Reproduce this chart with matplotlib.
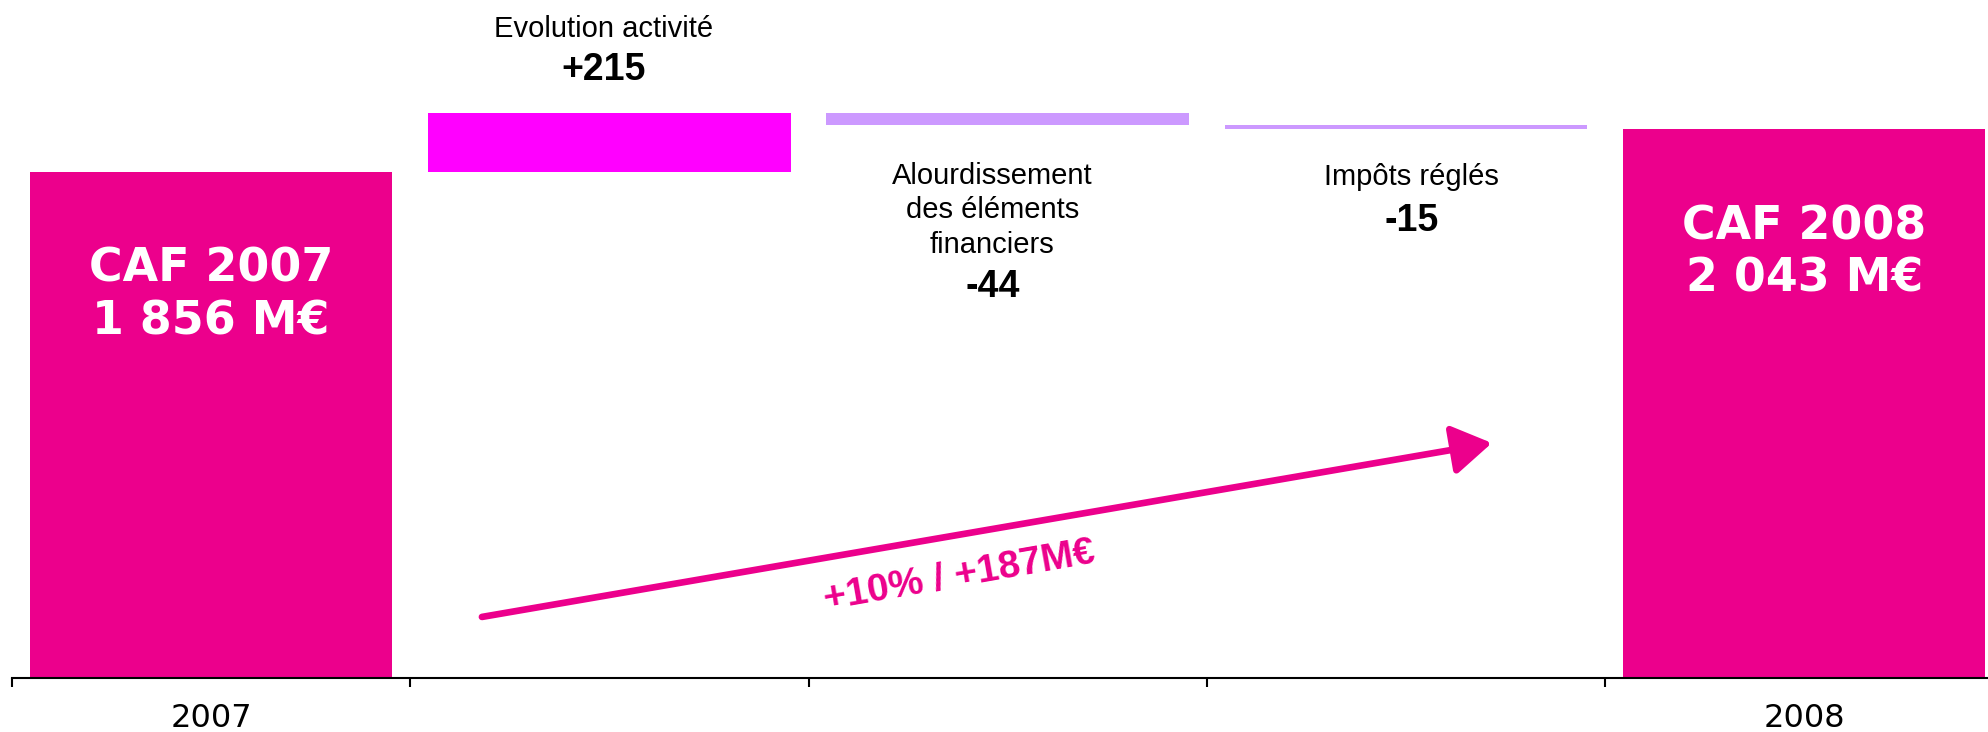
import matplotlib
matplotlib.use("Agg")
import matplotlib.pyplot as plt
import numpy as np

# waterfall data (M€)
categories = ["2007", "Evolution activité", "Alourdissement\ndes éléments\nfinanciers", "Impôts réglés", "2008"]
tick_labels = ["2007", "", "", "", "2008"]
start_value = 1856
steps = [215, -44, -15]
step_labels = ["+215", "-44", "-15"]
total_labels = ["CAF 2007\n1 856 M€", "CAF 2008\n2 043 M€"]
growth_label = "+10% / +187M€"

PINK = "#EC008C"
MAGENTA = "#FF00FF"
LILAC = "#CC99FF"

fig = plt.figure(figsize=(19.88, 7.32), dpi=100)
ax = fig.add_axes([12 / 1988, 54 / 732, 5 * 398.25 / 1988, 678 / 732])

# running totals for the floating bars
running = np.cumsum([start_value] + steps)
end_value = running[-1]
bottoms = [0]
heights = [start_value]
colors = [PINK]
for i, s in enumerate(steps):
    bottoms.append(min(running[i], running[i + 1]))
    heights.append(abs(s))
    colors.append(MAGENTA if s > 0 else LILAC)
bottoms.append(0)
heights.append(end_value)
colors.append(PINK)

x = np.arange(len(categories))
ax.bar(x, heights, bottom=bottoms, width=0.91, color=colors, zorder=2)

ax.set_xlim(-0.5, 4.5)
ax.set_ylim(0, 2487)

for side in ["top", "right", "left"]:
    ax.spines[side].set_visible(False)
ax.spines["bottom"].set_linewidth(1.5)
ax.set_yticks([])
ax.set_xticks(np.arange(-0.5, 5, 1))
ax.set_xticklabels([])
ax.tick_params(axis="x", which="major", direction="out", length=6.5, width=1.5)
ax.set_xticks(x, minor=True)
ax.set_xticklabels(tick_labels, minor=True, fontsize=23, family="DejaVu Sans")
ax.tick_params(axis="x", which="minor", length=0, pad=18)

# totals text inside the big bars
for xi, val, lab in [(0, start_value, total_labels[0]), (4, end_value, total_labels[1])]:
    l1, l2 = lab.split("\n")
    ax.annotate(l1, (xi, val), xytext=(0, -70), textcoords="offset points",
                ha="center", va="center", color="white", fontsize=33,
                fontweight="bold", family="DejaVu Sans")
    ax.annotate(l2, (xi, val), xytext=(0, -108), textcoords="offset points",
                ha="center", va="center", color="white", fontsize=33,
                fontweight="bold", family="DejaVu Sans")

# step labels
lab_font = "Liberation Sans"
ax.annotate(categories[1], (1, running[1]), xytext=(-4, 61), textcoords="offset points",
            ha="center", va="center", fontsize=21, family=lab_font)
ax.annotate(step_labels[0], (1, running[1]), xytext=(-4, 31), textcoords="offset points",
            ha="center", va="center", fontsize=27, fontweight="bold", family=lab_font)

ax.annotate(categories[2], (2, running[2]), xytext=(-11, -61), textcoords="offset points",
            ha="center", va="center", fontsize=21, family=lab_font, linespacing=1.3)
ax.annotate(step_labels[1], (2, running[2]), xytext=(-11, -116), textcoords="offset points",
            ha="center", va="center", fontsize=27, fontweight="bold", family=lab_font)

ax.annotate(categories[3], (3, running[3]), xytext=(4, -34), textcoords="offset points",
            ha="center", va="center", fontsize=21, family=lab_font)
ax.annotate(step_labels[2], (3, running[3]), xytext=(4, -66), textcoords="offset points",
            ha="center", va="center", fontsize=27, fontweight="bold", family=lab_font)

# growth arrow
ax.annotate("", xy=(3.216, 862), xytext=(0.680, 224),
            arrowprops=dict(arrowstyle="-|>,head_length=0.8,head_width=0.5",
                            mutation_scale=30, color=PINK, lw=4.8,
                            shrinkA=0, shrinkB=0), zorder=3)
ax.text(1.88, 372, growth_label, rotation=10, ha="center", va="center",
        color=PINK, fontsize=28, fontweight="bold", family=lab_font,
        rotation_mode="anchor")

fig.savefig("out.png", dpi=100)
